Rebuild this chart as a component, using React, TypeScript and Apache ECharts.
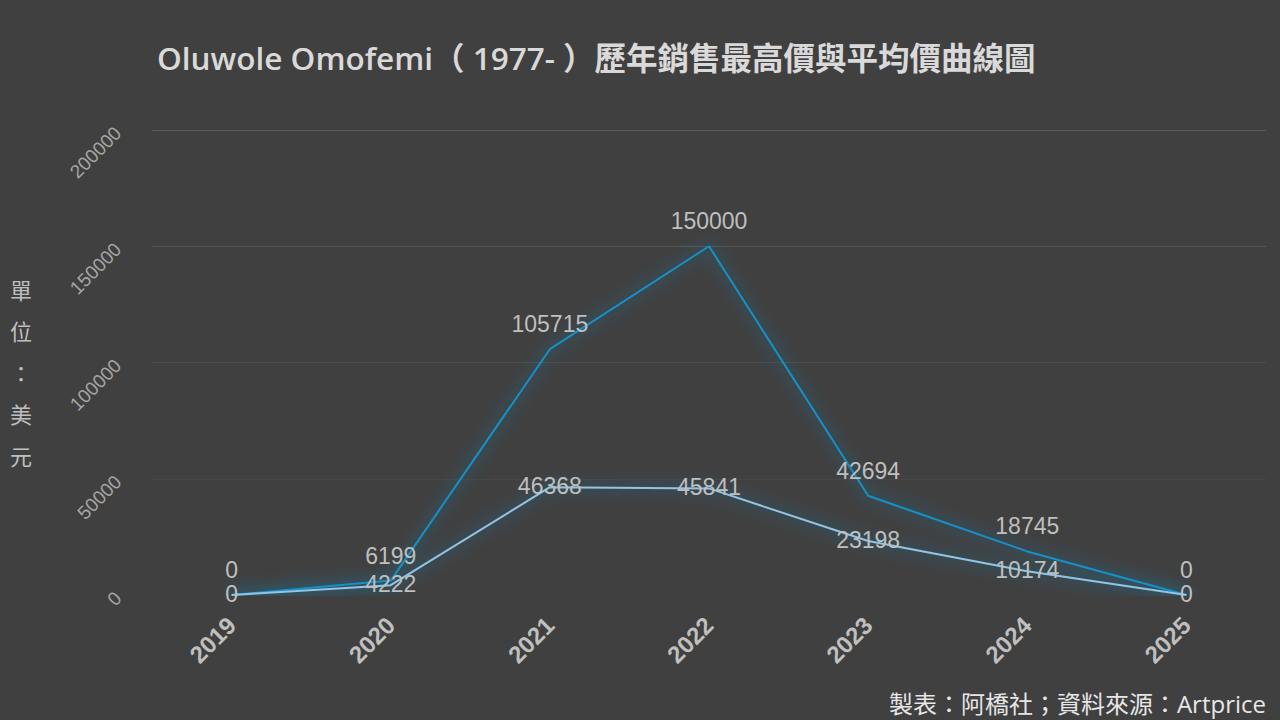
import React, { useEffect, useRef } from "react";
import * as echarts from "echarts";

const years = ["2019", "2020", "2021", "2022", "2023", "2024", "2025"];
const maxPrices = [0, 6199, 105715, 150000, 42694, 18745, 0];
const avgPrices = [0, 4222, 46368, 45841, 23198, 10174, 0];
const yTicks = [0, 50000, 100000, 150000, 200000];

const titleText = "Oluwole Omofemi（ 1977- ）歷年銷售最高價與平均價曲線圖";
const unitText = "單\n位\n：\n美\n元";
const sourceText = "製表：阿橋社；資料來源：Artprice";

export default function App() {
  const ref = useRef<HTMLDivElement>(null);
  useEffect(() => {
    document.body.style.margin = "0";
    const chart = echarts.init(ref.current!, null, { renderer: "svg" });
    const latin = "'Open Sans', 'Noto Sans CJK TC', sans-serif";
    const numFont = "'Liberation Sans', Arial, sans-serif";
    chart.setOption({
      animation: false,
      backgroundColor: "#404040",
      title: {
        text: titleText,
        left: 152,
        top: 37,
        textStyle: {
          color: "#d9d9d9",
          fontSize: 31.5,
          fontWeight: 600,
          fontFamily: latin,
        },
      },
      graphic: [
        {
          type: "text",
          left: 10,
          top: 268,
          style: {
            text: unitText,
            fill: "#bfbfbf",
            fontSize: 22,
            lineHeight: 41.5,
            fontFamily: "'Noto Sans CJK TC', sans-serif",
            align: "center",
          },
        },
        {
          type: "text",
          right: 14,
          bottom: 5,
          style: {
            text: sourceText,
            fill: "#e6e6e6",
            fontSize: 24,
            fontFamily: latin,
          },
        },
      ],
      grid: { left: 152, right: 14, top: 130, bottom: 125, containLabel: false },
      xAxis: {
        type: "category",
        data: years,
        boundaryGap: true,
        axisLine: { show: false },
        axisTick: { show: false },
        axisLabel: {
          rotate: 45,
          margin: 26,
          color: "#bfbfbf",
          fontSize: 24,
          fontWeight: "bold",
          fontFamily: numFont,
        },
      },
      yAxis: {
        type: "value",
        min: yTicks[0],
        max: yTicks[yTicks.length - 1],
        interval: yTicks[1] - yTicks[0],
        axisLine: {
          show: true,
          lineStyle: {
            width: 1,
            color: new echarts.graphic.LinearGradient(0, 0, 0, 1, [
              { offset: 0, color: "#5a5a5a" },
              { offset: 0.7, color: "#474747" },
              { offset: 1, color: "rgba(64,64,64,0)" },
            ]),
          },
        },
        axisTick: { show: false },
        splitLine: {
          show: true,
          lineStyle: {
            width: 1,
            color: ["rgba(64,64,64,0)", "#474747", "#4e4e4e", "#555555", "#5a5a5a"],
          },
        },
        axisLabel: {
          rotate: 45,
          margin: 34,
          color: "#a6a6a6",
          fontSize: 19,
          fontFamily: numFont,
          formatter: (v: number) => String(v),
        },
      },
      series: [
        {
          name: "最高價",
          type: "line",
          data: maxPrices,
          symbol: "circle",
          symbolSize: 1,
          itemStyle: { color: "rgba(0,0,0,0)" },
          lineStyle: {
            color: "#1590c8",
            width: 2,
            shadowBlur: 16,
            shadowColor: "rgba(30,150,215,0.95)",
          },
          label: {
            show: true,
            position: "top",
            distance: 13,
            color: "#bfbfbf",
            fontSize: 23,
            fontFamily: numFont,
          },
          z: 2,
        },
        {
          name: "平均價",
          type: "line",
          data: avgPrices,
          symbol: "circle",
          symbolSize: 1,
          itemStyle: { color: "rgba(0,0,0,0)" },
          lineStyle: {
            color: "#8ec5e8",
            width: 2,
            shadowBlur: 16,
            shadowColor: "rgba(30,150,215,0.95)",
          },
          label: {
            show: true,
            position: "inside",
            offset: [0, -1],
            color: "#bfbfbf",
            fontSize: 23,
            fontFamily: numFont,
          },
          z: 3,
        },
      ],
    });
    return () => chart.dispose();
  }, []);
  return <div ref={ref} style={{ width: 1280, height: 720 }} />;
}
